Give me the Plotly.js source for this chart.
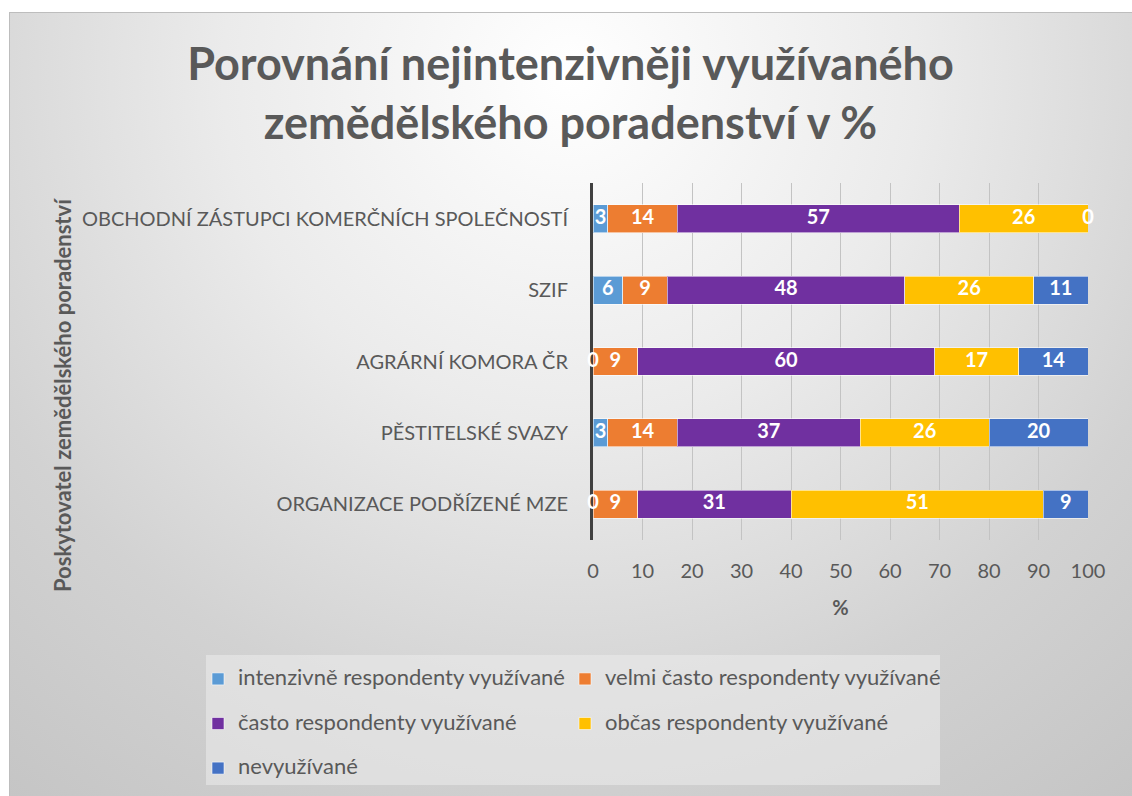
<!DOCTYPE html>
<html>
<head>
<meta charset="utf-8">
<script src="https://cdn.plot.ly/plotly-3.0.1.min.js"></script>
<style>
  html, body { margin: 0; padding: 0; background: #ffffff; }
  #frame {
    position: absolute; left: 9px; top: 12px; width: 1123px; height: 784px;
    background: radial-gradient(circle farthest-corner at 50% 8%, #ffffff 0%, #ebebeb 38%, #d2d2d2 72%, #c5c5c5 100%);
    box-shadow: inset 1px 1px 0 #bdbdbd;
  }
  #chart { width: 1123px; height: 784px; }
</style>
</head>
<body>
<div id="frame"><div id="chart"></div></div>
<script>
// Categories, top to bottom as in the reference
const categories = [
  'OBCHODNÍ ZÁSTUPCI KOMERČNÍCH SPOLEČNOSTÍ',
  'SZIF',
  'AGRÁRNÍ KOMORA ČR',
  'PĚSTITELSKÉ SVAZY',
  'ORGANIZACE PODŘÍZENÉ MZE'
];
const seriesNames = [
  'intenzivně respondenty využívané',
  'velmi často respondenty využívané',
  'často respondenty využívané',
  'občas respondenty využívané',
  'nevyužívané'
];
const intenzivne = [3, 6, 0, 3, 0];
const velmiCasto = [14, 9, 9, 14, 9];
const casto = [57, 48, 60, 37, 31];
const obcas = [26, 26, 17, 26, 51];
const nevyuzivane = [0, 11, 14, 20, 9];
const xTicks = [0, 10, 20, 30, 40, 50, 60, 70, 80, 90, 100];

const seriesValues = [intenzivne, velmiCasto, casto, obcas, nevyuzivane];
const colors = ['#5B9BD5', '#ED7D31', '#7030A0', '#FFC000', '#4472C4'];

const FONT = 'Lato, "Open Sans", sans-serif';
const GREY = '#595959';

const traces = [];
seriesValues.forEach((vals, i) => {
  const last = i === seriesValues.length - 1;
  traces.push({
    type: 'bar',
    orientation: 'h',
    name: '<span style="font-size:22px">' + seriesNames[i] + '</span>' + (last ? '' : '<br>'),
    x: vals,
    y: categories,
    marker: { color: colors[i], line: { color: 'rgba(255,255,255,0.55)', width: 1 } },
    hoverinfo: 'x+name'
  });
});

// data labels (centre of each stacked segment)
const lx = [], ly = [], lt = [];
categories.forEach((c, j) => {
  let start = 0;
  seriesValues.forEach(vals => {
    const v = vals[j];
    lx.push(start + v / 2);
    ly.push(c);
    lt.push(String(v));
    start += v;
  });
});
traces.push({
  type: 'scatter',
  mode: 'text',
  x: lx, y: ly, text: lt,
  textposition: 'middle center',
  textfont: { family: FONT, size: 20, color: '#ffffff', weight: 'bold' },
  cliponaxis: false,
  showlegend: false,
  hoverinfo: 'skip'
});

// pixel helpers for placing the decorations (graph coords -> paper coords)
const PL = 584, PW = 495, PT = 171, PH = 357;
const px = v => (v - PL) / PW;
const py = v => 1 - (v - PT) / PH;

const layout = {
  width: 1123,
  height: 784,
  paper_bgcolor: 'rgba(0,0,0,0)',
  plot_bgcolor: 'rgba(0,0,0,0)',
  barmode: 'stack',
  bargap: 0.608,
  font: { family: FONT, color: GREY },
  margin: { l: 584, r: 44, t: 171, b: 256, autoexpand: false },
  title: {
    text: '<b>Porovnání nejintenzivněji využívaného<br>zemědělského poradenství v %</b>',
    font: { family: FONT, size: 45, color: GREY },
    x: 0.5, xanchor: 'center',
    y: 1 - 68 / 784, yref: 'container', yanchor: 'top'
  },
  xaxis: {
    range: [0, 100],
    tickvals: xTicks,
    ticktext: xTicks.map(String),
    showgrid: true,
    gridcolor: '#c3c3c3',
    gridwidth: 1,
    zeroline: false,
    showline: false,
    ticks: '',
    ticklabelstandoff: 17,
    tickfont: { family: FONT, size: 20, color: GREY },
    title: { text: '<b>%</b>', font: { family: FONT, size: 20, color: GREY }, standoff: 19 },
    fixedrange: true
  },
  yaxis: {
    autorange: 'reversed',
    type: 'category',
    showgrid: false,
    zeroline: false,
    showline: true,
    linecolor: '#404040',
    linewidth: 3,
    layer: 'below traces',
    ticks: '',
    ticklabelstandoff: 18,
    tickfont: { family: FONT, size: 20, color: GREY },
    fixedrange: true
  },
  annotations: [{
    text: '<b>Poskytovatel zemědělského poradenství</b>',
    xref: 'paper', yref: 'paper',
    x: px(53), y: py(383),
    xanchor: 'center', yanchor: 'middle',
    textangle: -90,
    showarrow: false,
    font: { family: FONT, size: 22, color: GREY }
  }],
  shapes: [{
    type: 'rect', xref: 'paper', yref: 'paper', layer: 'below',
    x0: px(197), x1: px(931), y0: py(643), y1: py(773),
    fillcolor: 'rgba(236,236,236,0.55)',
    line: { width: 0 }
  }],
  showlegend: true,
  legend: {
    orientation: 'h',
    x: px(189), xanchor: 'left',
    y: py(650), yanchor: 'top',
    entrywidth: 322,
    valign: 'top',
    bgcolor: 'rgba(0,0,0,0)',
    borderwidth: 0,
    font: { family: FONT, size: 16, color: GREY },
    traceorder: 'normal'
  }
};

Plotly.newPlot('chart', traces, layout, { displayModeBar: false, staticPlot: true }).then(gd => {
  // let the longest legend entry run past its fixed column width instead of being clipped
  gd.querySelectorAll('.legend .scrollbox').forEach(el => el.removeAttribute('clip-path'));
});
</script>
</body>
</html>
